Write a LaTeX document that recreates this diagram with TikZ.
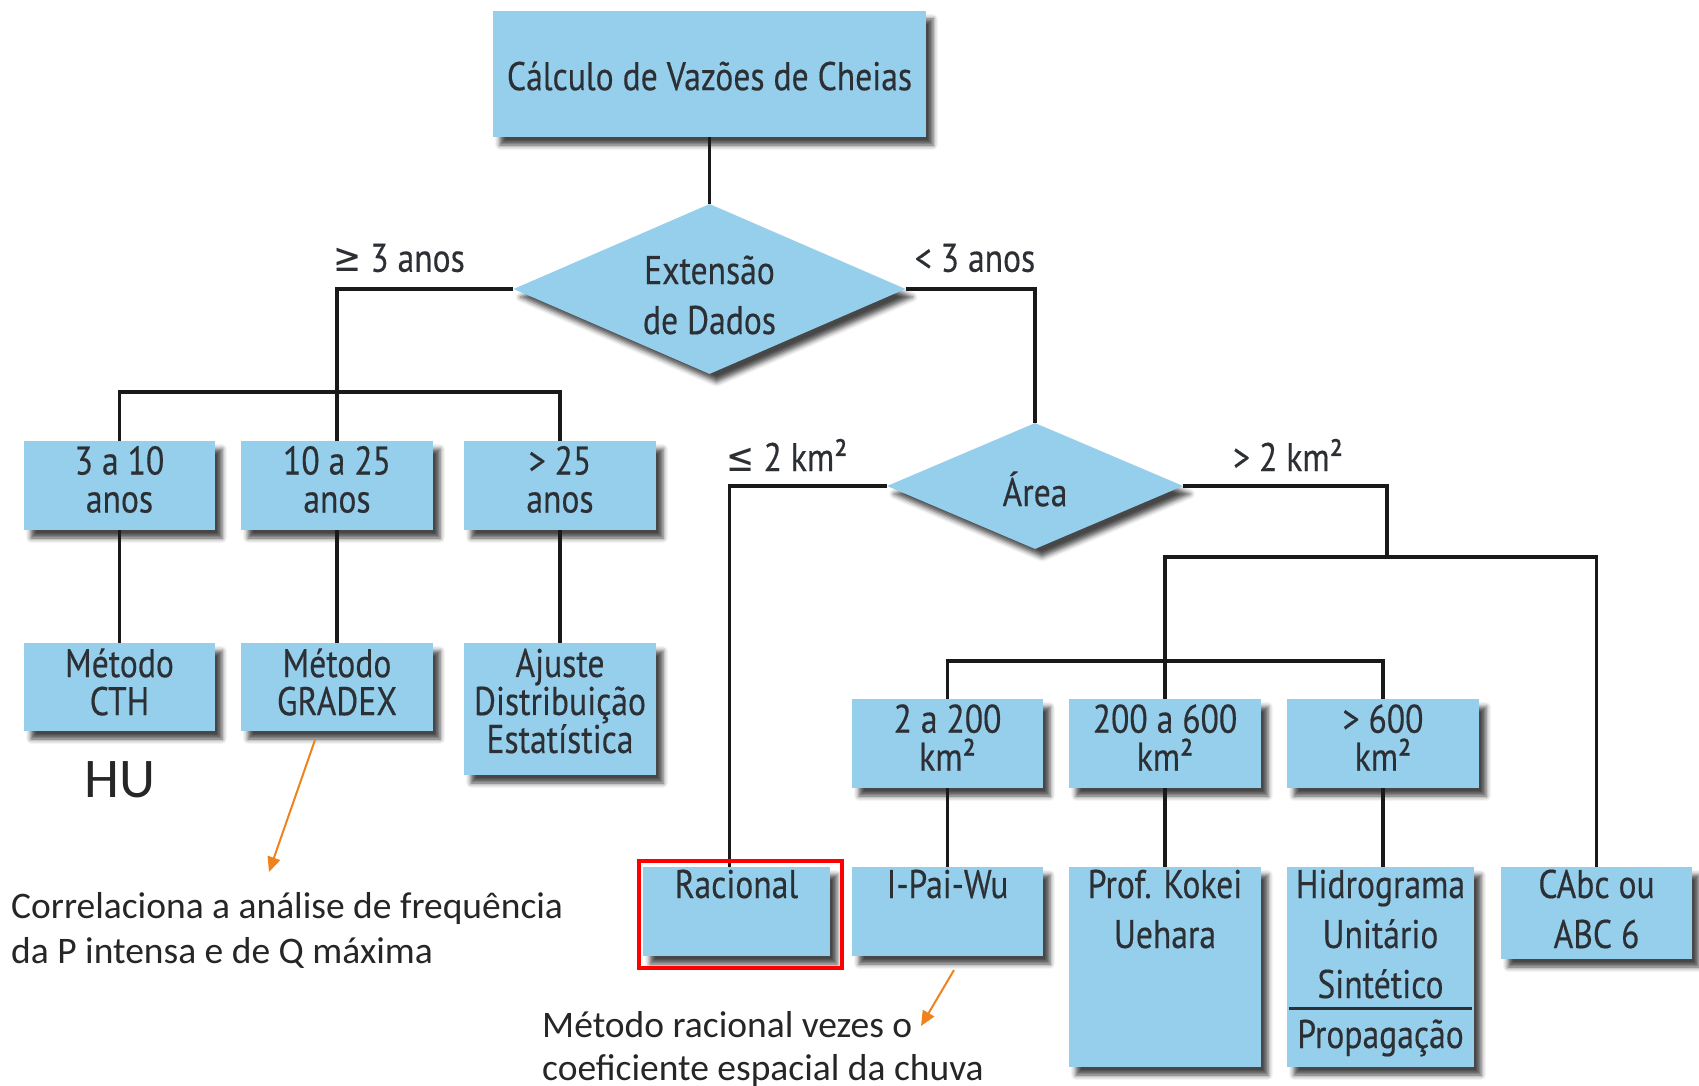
\documentclass[tikz,border=0pt]{standalone}
\usepackage{fontspec}
\setmainfont{PT Sans}
\newfontfamily\condfont[FakeStretch=0.84,FakeBold=0.35]{PT Sans}
\newfontfamily\condsym[FakeStretch=0.84]{DejaVu Sans}
\newfontfamily\calfont{Carlito}
\usetikzlibrary{shapes.geometric,shadows.blur,arrows.meta}
\definecolor{boxblue}{HTML}{96CFEC}
\definecolor{txtgray}{HTML}{2C3034}
\definecolor{arrorange}{HTML}{F0821E}
\tikzset{
  shad/.style={blur shadow={shadow xshift=7pt, shadow yshift=-8pt, shadow blur radius=5pt, shadow opacity=72}},
  box/.style={rectangle, fill=boxblue, draw=none, inner sep=0, shad},
  dia/.style={diamond, fill=boxblue, draw=none, inner sep=0, aspect=2.3, shad},
  ctxt/.style={inner sep=0, align=center, text=txtgray, font=\condfont\fontsize{40}{38}\selectfont},
  dtxt/.style={inner sep=0, align=center, text=txtgray, font=\condfont\fontsize{40}{50}\selectfont},
  btxt/.style={inner sep=0, text=txtgray, font=\condfont\fontsize{40}{38}\selectfont, anchor=base},
  lbl/.style={inner sep=0, text=txtgray, font=\condfont\fontsize{40}{38}\selectfont},
  conn/.style={line width=3.2pt, draw=black!90},
  ann/.style={inner sep=0, text=black!85, font=\calfont\fontsize{37.5}{44}\selectfont, anchor=base west},
  orarrow/.style={line width=2pt, draw=arrorange, -{Triangle[length=15pt,width=13pt]}}
}
\begin{document}
\begin{tikzpicture}[x=1pt,y=-1pt]
\path[use as bounding box] (0,0) rectangle (1699,1086);
% top and decisions
\node[box, minimum width=433, minimum height=126] (title) at (709.5,74) {};
\node[ctxt] (titleT) at ([yshift=-2pt]title.center) {Cálculo de Vazões de Cheias};
\node[dia, minimum width=392, minimum height=170] (ext) at (709.5,289) {};
\node[dtxt] (extT) at ([yshift=-6pt]ext.center) {Extensão\\de Dados};
\node[dia, minimum width=296, minimum height=126] (area) at (1035,486) {};
\node[dtxt] (areaT) at ([yshift=-3pt]area.center) {Área};
% left branch
\node[box, minimum width=191, minimum height=89] (b310) at (119.5,485.5) {};
\node[box, minimum width=192, minimum height=89] (b1025) at (337,485.5) {};
\node[box, minimum width=192, minimum height=89] (b25) at (560,485.5) {};
\node[box, minimum width=191, minimum height=88] (cth) at (119.5,687) {};
\node[box, minimum width=192, minimum height=88] (gradex) at (337,687) {};
\node[box, minimum width=192, minimum height=132] (ajuste) at (560,709) {};
\node[ctxt] (b310T) at ([yshift=6pt]b310.center) {3 a 10\\anos};
\node[ctxt] (b1025T) at ([yshift=6pt]b1025.center) {10 a 25\\anos};
\node[ctxt] (b25T) at ([yshift=6pt]b25.center) {> 25\\anos};
\node[ctxt] (cthT) at ([yshift=5pt]cth.center) {Método\\CTH};
\node[ctxt] (gradexT) at ([yshift=5pt]gradex.center) {Método\\GRADEX};
\node[ctxt] (ajusteT) at ([yshift=8pt]ajuste.center) {Ajuste\\Distribuição\\Estatística};
% right branch
\node[box, minimum width=191, minimum height=89] (ka) at (947.5,743.5) {};
\node[box, minimum width=192, minimum height=89] (kb) at (1165,743.5) {};
\node[box, minimum width=192, minimum height=89] (kc) at (1383,743.5) {};
\node[ctxt] (kaT) at ([yshift=6pt]ka.center) {2 a 200\\km²};
\node[ctxt] (kbT) at ([yshift=6pt]kb.center) {200 a 600\\km²};
\node[ctxt] (kcT) at ([yshift=6pt]kc.center) {> 600\\km²};
\node[box, minimum width=187, minimum height=89] (rac) at (736.5,911.5) {};
\node[box, minimum width=191, minimum height=89] (ipai) at (947.5,911.5) {};
\node[box, minimum width=192, minimum height=200] (kokei) at (1165,967) {};
\node[box, minimum width=187, minimum height=200] (hidro) at (1380.5,967) {};
\node[box, minimum width=191, minimum height=92] (abc) at (1596.5,913) {};
% bottom row texts
\node[btxt] (racT) at (rac.center |- 0,898) {Racional};
\node[btxt] (ipaiT) at (ipai.center |- 0,898) {I-Pai-Wu};
\node[btxt] (kokeiT1) at (kokei.center |- 0,898) {Prof. Kokei};
\node[btxt] (kokeiT2) at (kokei.center |- 0,948) {Uehara};
\node[btxt] (hidroT1) at (hidro.center |- 0,898) {Hidrograma};
\node[btxt] (hidroT2) at (hidro.center |- 0,948) {Unitário};
\node[btxt] (hidroT3) at (hidro.center |- 0,998) {Sintético};
\node[btxt] (hidroT4) at (hidro.center |- 0,1048) {Propagação};
\node[btxt] (abcT1) at (abc.center |- 0,898) {CAbc ou};
\node[btxt] (abcT2) at (abc.center |- 0,948) {ABC 6};
\coordinate (sep) at (0,1008);
\draw[line width=3pt, draw=txtgray] ([xshift=2pt]hidro.west |- sep) -- ([xshift=-2pt]hidro.east |- sep);
% labels
\node[lbl] (l1) at (399,258) {{\condsym ≥} 3 anos};
\node[lbl] (l2) at (975,258) {< 3 anos};
\node[lbl] (l3) at (787,455) {{\condsym ≤} 2 km²};
\node[lbl] (l4) at (1288,455) {> 2 km²};
% connectors
\draw[conn] (title.south) -- (ext.north);
\draw[conn] (ext.west) -| (b1025.north);
\coordinate (bus1) at (0,392);
\draw[conn] (b310.north) -- (b310.north |- bus1) -- (b25.north |- bus1) -- (b25.north);
\draw[conn] (b310.south) -- (cth.north);
\draw[conn] (b1025.south) -- (gradex.north);
\draw[conn] (b25.south) -- (ajuste.north);
\draw[conn] (ext.east) -| (area.north);
\draw[conn] (area.west) -| ([xshift=-7pt]rac.north);
\coordinate (j2) at (1387,557);
\draw[conn] (area.east) -| (j2);
\draw[conn] (kb.north) -- (kb.north |- j2) -- (abc.north |- j2) -- (abc.north);
\coordinate (bus3) at (0,661);
\draw[conn] (ka.north) -- (ka.north |- bus3) -- (kc.north |- bus3) -- (kc.north);
\draw[conn] (ka.south) -- (ipai.north);
\draw[conn] (kb.south) -- (kokei.north);
\draw[conn] (kc.south) -- (kc.south |- hidro.north);
% highlight
\node[draw=red, line width=4.5pt, minimum width=203, minimum height=107, inner sep=0] (redbox) at (740.5,914.5) {};
% annotations
\node[ann, font=\calfont\fontsize{56}{60}\selectfont, anchor=base] (hu) at (120,797) {HU};
\node[ann] (n1a) at (11,918) {Correlaciona a análise de frequência};
\node[ann] (n1b) at (11,963) {da P intensa e de Q máxima};
\node[ann] (n2a) at (542,1037) {Método racional vezes o};
\node[ann] (n2b) at (542,1080) {coeficiente espacial da chuva};
\coordinate (o1s) at (315,740);
\coordinate (o1e) at (269,872);
\draw[orarrow] (o1s) -- (o1e);
\coordinate (o2s) at (954,970);
\coordinate (o2e) at (921,1026);
\draw[orarrow] (o2s) -- (o2e);
\end{tikzpicture}
\end{document}
